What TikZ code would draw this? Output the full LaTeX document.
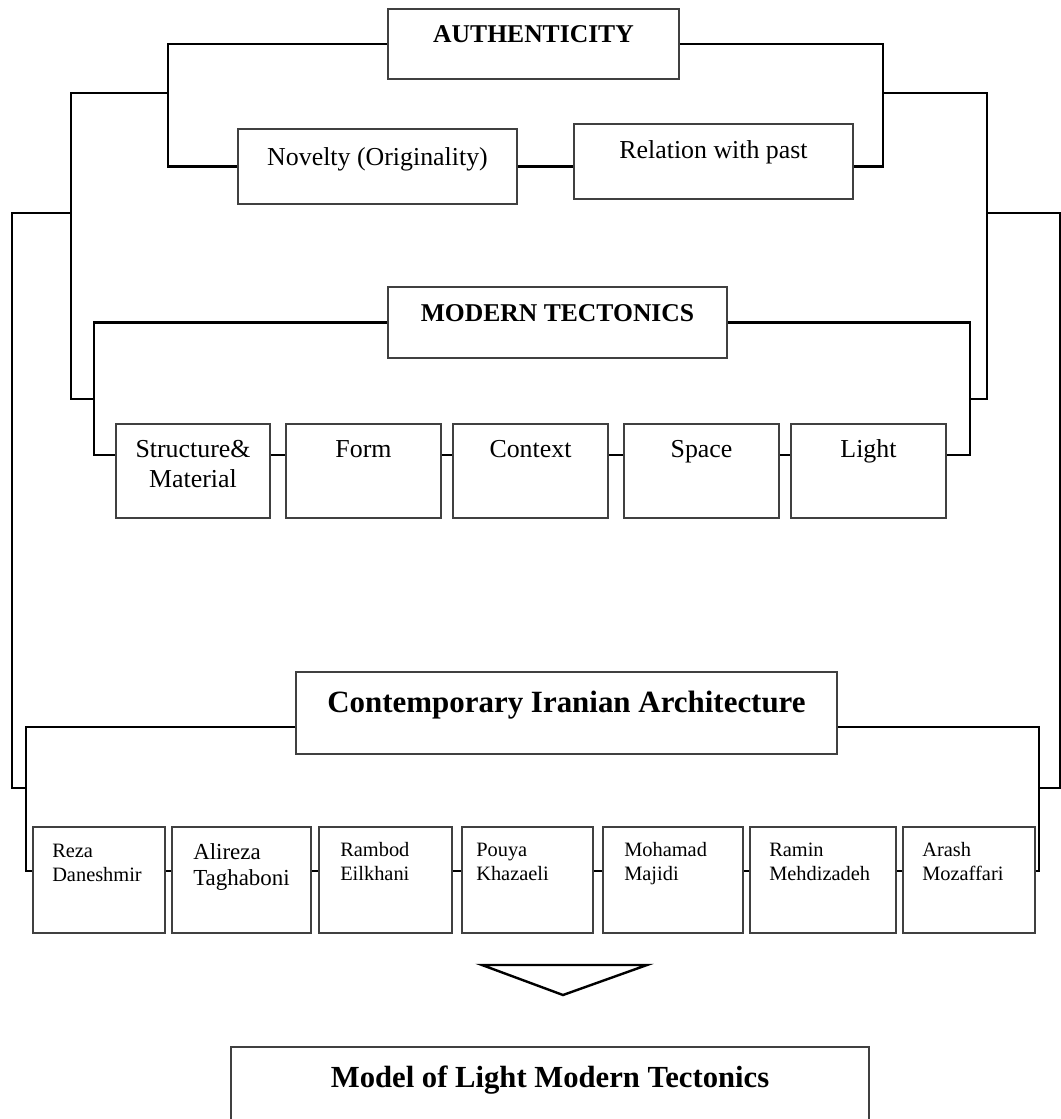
\documentclass[tikz,border=0pt]{standalone}
\usepackage{fontspec}
\setmainfont{Liberation Serif}
\usetikzlibrary{fit,backgrounds}
\begin{document}
\begin{tikzpicture}[x=0.75pt,y=-0.75pt,
  box/.style={draw=black!75, line width=1pt, inner sep=0pt, fill=white},
  conn/.style={line width=1.9pt, line join=miter, line cap=rect},
  hd/.style={font=\fontsize{19.2}{22}\selectfont\bfseries, anchor=base, inner sep=0pt},
  bighd/.style={font=\fontsize{23.2}{26}\selectfont\bfseries, anchor=base, inner sep=0pt},
  lbl/.style={font=\fontsize{19.4}{22.5}\selectfont, anchor=base, inner sep=0pt, align=center},
  nm/.style={font=\fontsize{15.3}{18}\selectfont, anchor=base west, inner sep=0pt, align=left},
  tri/.style={line width=1.8pt, line join=miter},
]
\useasboundingbox (0,0) rectangle (1060,1119);
\clip (0,0) rectangle (1060,1119);

% ---------- boxes ----------
\node[box, fit={(388,9)(679,79)}] (auth) {};
\node[box, fit={(238,129)(517,204)}] (nov) {};
\node[box, fit={(574,124)(853,199)}] (rel) {};
\node[box, fit={(388,287)(727,358)}] (mt) {};
\node[box, fit={(116,424)(270,518)}] (s1) {};
\node[box, fit={(286,424)(441,518)}] (s2) {};
\node[box, fit={(453,424)(608,518)}] (s3) {};
\node[box, fit={(624,424)(779,518)}] (s4) {};
\node[box, fit={(791,424)(946,518)}] (s5) {};
\node[box, fit={(296,672)(837,754)}] (cia) {};
\node[box, fit={(33,827)(165,933)}] (n1) {};
\node[box, fit={(172,827)(311,933)}] (n2) {};
\node[box, fit={(319,827)(452,933)}] (n3) {};
\node[box, fit={(462,827)(593,933)}] (n4) {};
\node[box, fit={(603,827)(743,933)}] (n5) {};
\node[box, fit={(750,827)(896,933)}] (n6) {};
\node[box, fit={(903,827)(1035,933)}] (n7) {};
\node[box, fit={(231,1047)(869,1140)}] (model) {};

% ---------- texts ----------
\node[hd] (authT) at (533.5,43) {AUTHENTICITY};
\node[lbl] (novT) at (377.5,166) {Novelty (Originality)};
\node[lbl] (relT) at (713.5,159) {Relation with past};
\node[hd] (mtT) at (557.5,322) {MODERN TECTONICS};
\node[lbl] (s1T) at (193,487) {Structure\&\\Material};
\node[lbl] (s2T) at (363.5,457) {Form};
\node[lbl] (s3T) at (530.5,457) {Context};
\node[lbl] (s4T) at (701.5,457) {Space};
\node[lbl] (s5T) at (868.5,457) {Light};
\node[bighd] (ciaT) at (566.5,712) {Contemporary Iranian Architecture};
\node[nm] (n1T) at (52,881) {Reza\\Daneshmir};
\node[nm, font=\fontsize{17.2}{19}\selectfont] (n2T) at (193,885) {Alireza\\Taghaboni};
\node[nm] (n3T) at (340,880) {Rambod\\Eilkhani};
\node[nm] (n4T) at (476,880) {Pouya\\Khazaeli};
\node[nm] (n5T) at (624,880) {Mohamad\\Majidi};
\node[nm] (n6T) at (769,880) {Ramin\\Mehdizadeh};
\node[nm] (n7T) at (922,880) {Arash\\Mozaffari};
\node[bighd, font=\fontsize{23}{26}\selectfont\bfseries] (modelT) at (550,1087) {Model of Light Modern Tectonics};

% ---------- junction coordinates ----------
\coordinate (aL) at (168,93);
\coordinate (aR) at (883,93);
\coordinate (tL) at (71,93);
\coordinate (tR) at (987,93);
\coordinate (mL) at (94,399);
\coordinate (mR) at (970,399);
\coordinate (row2) at (0,455);
\coordinate (row3) at (0,727);
\coordinate (row4) at (0,871);
\coordinate (oL1) at (71,213);
\coordinate (oL2) at (12,213);
\coordinate (oL3) at (12,788);
\coordinate (cL) at (26,788);
\coordinate (oR1) at (987,213);
\coordinate (oR2) at (1060,213);
\coordinate (oR3) at (1060,788);
\coordinate (cR) at (1039,788);

% ---------- connectors (behind the boxes) ----------
\begin{scope}[on background layer]
\draw[conn] (auth.west) -| (aL) |- (nov.west);
\draw[conn] (nov.east) -- (nov.east -| rel.west);
\draw[conn] (nov.east -| rel.east) -| (aR) |- (auth.east);
\draw[conn] (aL) -- (tL) |- (mL);
\draw[conn] (aR) -- (tR) |- (mR);
\draw[conn] (mt.west) -| (mL) |- (s1.west |- row2);
\draw[conn] (mt.east) -| (mR) |- (s5.east |- row2);
\foreach \a/\b in {s1/s2,s2/s3,s3/s4,s4/s5}
  \draw[conn] (\a.east |- row2) -- (\b.west |- row2);
\draw[conn] (oL1) -- (oL2) -- (oL3) -- (cL);
\draw[conn] (oR1) -- (oR2) -- (oR3) -- (cR);
\draw[conn] (cia.west |- row3) -| (cL) |- (n1.west |- row4);
\draw[conn] (cia.east |- row3) -| (cR) |- (n7.east |- row4);
\foreach \a/\b in {n1/n2,n2/n3,n3/n4,n4/n5,n5/n6,n6/n7}
  \draw[conn] (\a.east |- row4) -- (\b.west |- row4);
\end{scope}

% ---------- arrow triangle ----------
\draw[tri] (482,965) -- (647,965) -- (563,995) -- cycle;
\end{tikzpicture}
\end{document}
